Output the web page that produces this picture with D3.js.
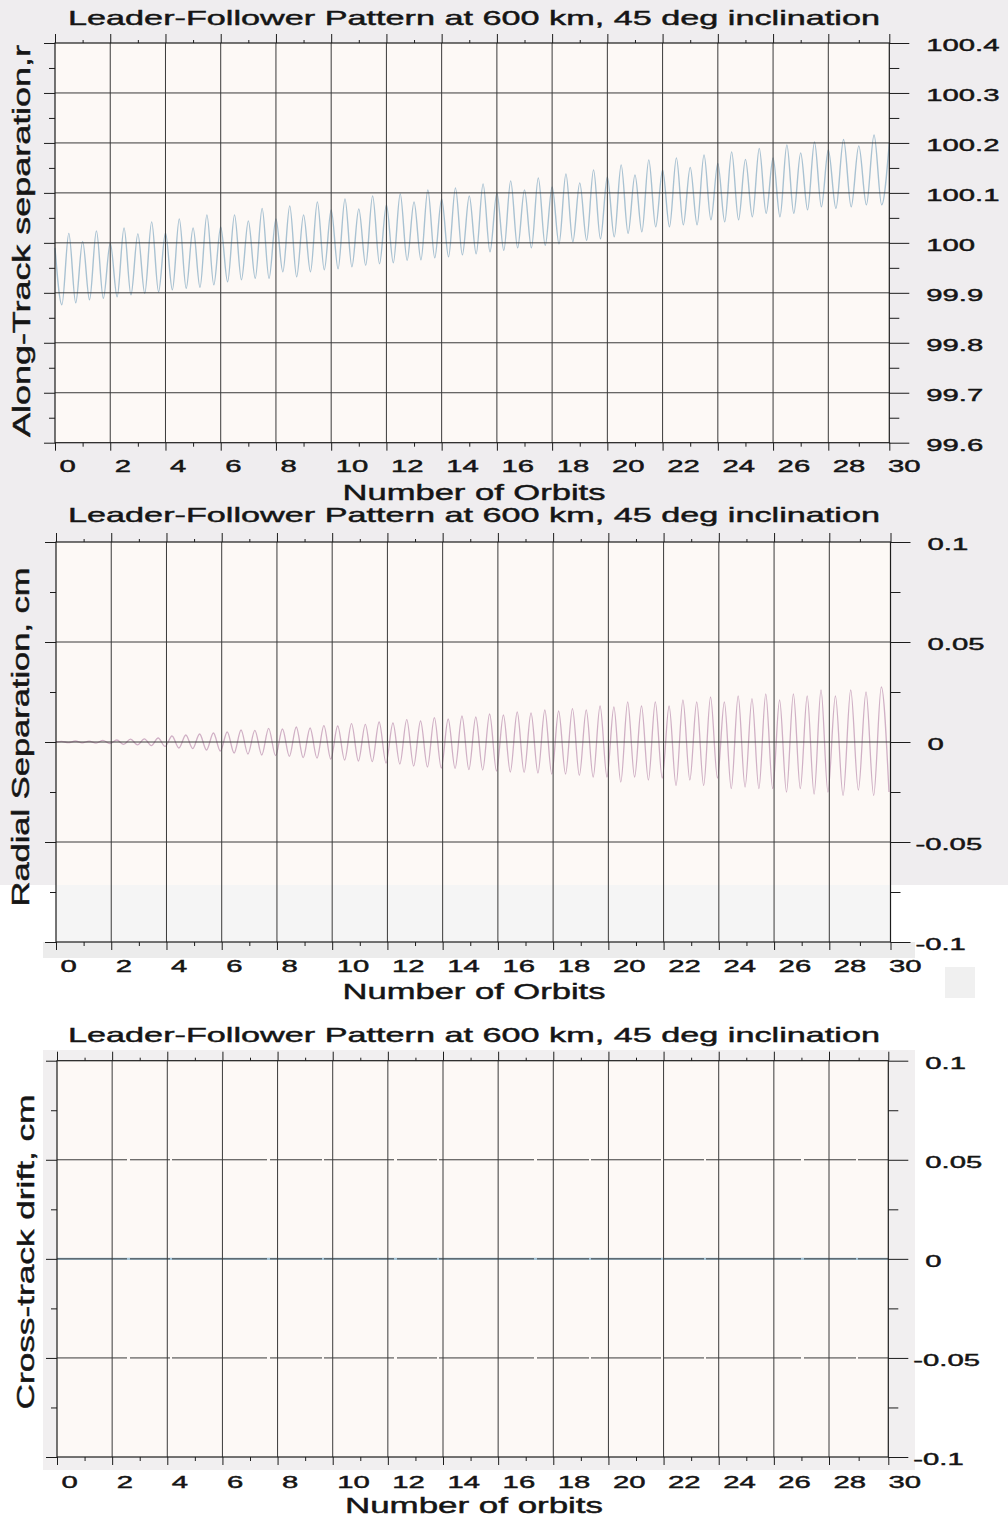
<!DOCTYPE html>
<html>
<head>
<meta charset="utf-8">
<script src="https://cdn.jsdelivr.net/npm/d3@7"></script>
<style>
  body { margin: 0; background: #ffffff; }
  svg { display: block; }
  text { font-family: "Liberation Sans", Arial, Helvetica, sans-serif; fill: #151515; stroke: #151515; stroke-width: 0.45px; }
</style>
</head>
<body>
<svg id="chart" width="1008" height="1520"></svg>
<script>
// ---------------- data ----------------
const chartTitle = "Leader-Follower Pattern at 600 km, 45 deg inclination";

const orbitTicks = [0, 2, 4, 6, 8, 10, 12, 14, 16, 18, 20, 22, 24, 26, 28, 30];
const orbitTickLabels = ["0", "2", "4", "6", "8", "10", "12", "14", "16", "18", "20", "22", "24", "26", "28", "30"];
const orbitMinorTicks = [1, 3, 5, 7, 9, 11, 13, 15, 17, 19, 21, 23, 25, 27, 29];

const alongTicks = [99.6, 99.7, 99.8, 99.9, 100, 100.1, 100.2, 100.3, 100.4];
const alongTickLabels = ["99.6", "99.7", "99.8", "99.9", "100", "100.1", "100.2", "100.3", "100.4"];
const alongMinorTicks = [99.65, 99.75, 99.85, 99.95, 100.05, 100.15, 100.25, 100.35];

const cmTicks = [-0.1, -0.05, 0, 0.05, 0.1];
const cmTickLabels = ["-0.1", "-0.05", "0", "0.05", "0.1"];
const cmMinorTicks = [-0.075, -0.025, 0.025, 0.075];

// Along-track separation: value at orbit 0, then crest values every half orbit
// (orbits 0.5, 1.0, ... 30.0) and trough values between them (0.25, 0.75, ... 29.75).
const alongStart = 99.99;
const alongPeaks = [
  100.019, 100.003, 100.024, 100.000, 100.030, 100.018, 100.042, 100.020, 100.048, 100.030,
  100.056, 100.032, 100.056, 100.044, 100.069, 100.048, 100.074, 100.056, 100.082, 100.066,
  100.088, 100.068, 100.094, 100.076, 100.098, 100.082, 100.106, 100.088, 100.110, 100.094,
  100.118, 100.100, 100.124, 100.106, 100.130, 100.112, 100.138, 100.120, 100.146, 100.132,
  100.156, 100.136, 100.166, 100.146, 100.170, 100.151, 100.176, 100.159, 100.182, 100.167,
  100.189, 100.170, 100.196, 100.180, 100.202, 100.186, 100.207, 100.194, 100.216, 100.200
];
const alongTroughs = [
  99.876, 99.880, 99.886, 99.889, 99.892, 99.896, 99.899, 99.902, 99.906, 99.909,
  99.911, 99.916, 99.922, 99.926, 99.929, 99.929, 99.942, 99.932, 99.942, 99.946,
  99.948, 99.952, 99.955, 99.958, 99.960, 99.965, 99.966, 99.970, 99.972, 99.976,
  99.978, 99.982, 99.985, 99.990, 99.990, 99.995, 99.998, 100.002, 100.005, 100.008,
  100.012, 100.019, 100.022, 100.032, 100.032, 100.036, 100.036, 100.046, 100.042, 100.046,
  100.052, 100.059, 100.052, 100.059, 100.066, 100.072, 100.069, 100.072, 100.076, 100.076
];

// Radial separation: crests at orbits 0.2, 0.7, ... 29.7; troughs at 0.45, 0.95, ... 29.95.
const radialStart = 0;
const radialPeaks = [
  0.0003, 0.0005, 0.0004, 0.0008, 0.0010, 0.0014, 0.0016, 0.0020, 0.0030, 0.0035,
  0.0040, 0.0045, 0.0050, 0.0060, 0.0058, 0.0068, 0.0065, 0.0075, 0.0070, 0.0082,
  0.0080, 0.0092, 0.0088, 0.0100, 0.0095, 0.0112, 0.0105, 0.0122, 0.0115, 0.0130,
  0.0125, 0.0140, 0.0135, 0.0150, 0.0145, 0.0160, 0.0155, 0.0167, 0.0160, 0.0180,
  0.0175, 0.0200, 0.0180, 0.0200, 0.0180, 0.0210, 0.0200, 0.0225, 0.0200, 0.0230,
  0.0217, 0.0240, 0.0210, 0.0240, 0.0230, 0.0260, 0.0230, 0.0260, 0.0250, 0.0275
];
const radialTroughs = [
  -0.0003, -0.0004, -0.0006, -0.0008, -0.0012, -0.0014, -0.0018, -0.0022, -0.0030, -0.0033,
  -0.0040, -0.0045, -0.0055, -0.0060, -0.0065, -0.0068, -0.0072, -0.0078, -0.0080, -0.0085,
  -0.0090, -0.0095, -0.0098, -0.0105, -0.0110, -0.0120, -0.0125, -0.0130, -0.0132, -0.0138,
  -0.0140, -0.0145, -0.0150, -0.0152, -0.0155, -0.0160, -0.0160, -0.0167, -0.0175, -0.0175,
  -0.0200, -0.0175, -0.0190, -0.0180, -0.0217, -0.0190, -0.0217, -0.0180, -0.0233, -0.0225,
  -0.0233, -0.0233, -0.0250, -0.0233, -0.0260, -0.0250, -0.0267, -0.0240, -0.0267, -0.0250
];

// Cross-track drift stays at zero for the whole run.
const crossOrbits = [0, 5, 10, 15, 20, 25, 30];
const crossDrift = [0, 0, 0, 0, 0, 0, 0];

// ---------------- helpers ----------------
const svg = d3.select("#chart");
const INK = "#1c1c1c";
const GRID = "#3a3a3a";

// widen text horizontally (the plotting font is a wide sans)
function widen(sel, k) {
  sel.each(function () {
    const w = this.getComputedTextLength();
    d3.select(this).attr("textLength", w * k).attr("lengthAdjust", "spacingAndGlyphs");
  });
}

function oscillation(start, peaks, troughs, peakPhase, troughPhase) {
  const pts = [{ t: 0, v: start }];
  peaks.forEach((v, i) => pts.push({ t: peakPhase + 0.5 * i, v }));
  troughs.forEach((v, i) => pts.push({ t: troughPhase + 0.5 * i, v }));
  return pts.sort((a, b) => a.t - b.t);
}

function styleTicks(g) {
  g.select(".domain").remove();
  g.selectAll(".tick line").attr("stroke", INK).attr("stroke-width", 1);
}

// ---------------- page background (scanned sheet) ----------------
svg.append("rect").attr("x", 0).attr("y", 0).attr("width", 1008).attr("height", 885).attr("fill", "#efedef");
svg.append("rect").attr("x", 43).attr("y", 942).attr("width", 872).attr("height", 16).attr("fill", "#ececec");
svg.append("rect").attr("x", 945).attr("y", 967).attr("width", 30).attr("height", 31).attr("fill", "#f0f0f0");
svg.append("rect").attr("x", 43).attr("y", 1050).attr("width", 872).attr("height", 420).attr("fill", "#f1eff0");

// ---------------- one panel ----------------
function drawPanel(p) {
  const g = svg.append("g");
  const L = p.xRange[0], R = p.xRange[2];
  const x = d3.scaleLinear().domain([0, 28, 30]).range(p.xRange);
  const xLab = d3.scaleLinear().domain([0, 30]).range([L, L + 15 * p.step]);
  const y = d3.scaleLinear().domain(p.yDomain).range([p.yBottom, p.yTop]);

  // plot area
  g.append("rect").attr("x", L).attr("y", p.yTop).attr("width", R - L)
    .attr("height", p.yBottom - p.yTop).attr("fill", "#fdf9f6");
  if (p.fadeFrom) {
    g.append("rect").attr("x", L).attr("y", p.fadeFrom).attr("width", R - L)
      .attr("height", p.yBottom - p.fadeFrom).attr("fill", "#f5f5f5");
  }

  // data curve
  const line = d3.line().x(d => x(d.t)).y(d => y(d.v)).curve(d3.curveMonotoneX);
  g.append("path").datum(p.points).attr("d", line)
    .attr("fill", "none").attr("stroke", p.color).attr("stroke-width", p.lineWidth)
    .attr("stroke-linejoin", "round");

  // grid
  const grid = g.append("g").attr("stroke", GRID).attr("stroke-width", 1);
  grid.selectAll("line.h").data(p.yTicks.slice(1, -1)).join("line")
    .attr("x1", L).attr("x2", R).attr("y1", d => y(d)).attr("y2", d => y(d))
    .attr("stroke-dasharray", p.gridDash || null);
  grid.selectAll("line.v").data(orbitTicks.filter(d => d > 0 && d < 30)).join("line")
    .attr("class", "v")
    .attr("x1", d => x(d)).attr("x2", d => x(d)).attr("y1", p.yTop).attr("y2", p.yBottom);

  // frame
  g.append("rect").attr("x", L).attr("y", p.yTop).attr("width", R - L)
    .attr("height", p.yBottom - p.yTop).attr("fill", "none")
    .attr("stroke", INK).attr("stroke-width", 1.2);

  // tick marks on all four sides
  g.append("g").attr("transform", `translate(0,${p.yBottom})`)
    .call(d3.axisBottom(x).tickValues(orbitTicks).tickSize(8).tickFormat("")).call(styleTicks);
  g.append("g").attr("transform", `translate(0,${p.yBottom})`)
    .call(d3.axisBottom(x).tickValues(orbitMinorTicks).tickSize(4).tickFormat("")).call(styleTicks);
  g.append("g").attr("transform", `translate(0,${p.yTop})`)
    .call(d3.axisTop(x).tickValues(orbitTicks).tickSize(9).tickFormat("")).call(styleTicks);
  g.append("g").attr("transform", `translate(0,${p.yTop})`)
    .call(d3.axisTop(x).tickValues(orbitMinorTicks).tickSize(3).tickFormat("")).call(styleTicks);
  g.append("g").attr("transform", `translate(${L},0)`)
    .call(d3.axisLeft(y).tickValues(p.yTicks).tickSize(11).tickFormat("")).call(styleTicks);
  g.append("g").attr("transform", `translate(${L},0)`)
    .call(d3.axisLeft(y).tickValues(p.yMinor).tickSize(6).tickFormat("")).call(styleTicks);
  g.append("g").attr("transform", `translate(${R},0)`)
    .call(d3.axisRight(y).tickValues(p.yTicks).tickSize(20).tickFormat("")).call(styleTicks);
  g.append("g").attr("transform", `translate(${R},0)`)
    .call(d3.axisRight(y).tickValues(p.yMinor).tickSize(10).tickFormat("")).call(styleTicks);

  // x tick labels
  const xl = g.append("g").attr("transform", `translate(0,${p.yBottom})`)
    .call(d3.axisBottom(xLab).tickValues(orbitTicks).tickSize(0)
      .tickFormat((d, i) => orbitTickLabels[i]));
  xl.select(".domain").remove();
  xl.attr("font-size", null).attr("font-family", null);
  xl.selectAll("text")
    .attr("text-anchor", "start").attr("x", 4).attr("dy", null)
    .attr("y", p.xLabelBase - p.yBottom)
    .style("font-size", "17px").style("fill", "#151515")
    .call(widen, 1.72);

  // y tick labels on the right
  const yl = g.append("g").attr("transform", `translate(${R},0)`)
    .call(d3.axisRight(y).tickValues(p.yTicks).tickSize(0)
      .tickFormat((d, i) => p.yTickLabels[i]));
  yl.select(".domain").remove();
  yl.attr("font-size", null).attr("font-family", null);
  yl.selectAll("text")
    .attr("text-anchor", "start").attr("dy", null).attr("y", 7.5)
    .attr("x", d => (d < 0 ? 25 : 37))
    .style("font-size", "17px").style("fill", "#151515")
    .call(widen, 1.72);

  // titles
  g.append("text").attr("x", 474).attr("y", p.titleBase).attr("text-anchor", "middle")
    .attr("textLength", 812).attr("lengthAdjust", "spacingAndGlyphs")
    .style("font-size", "21px").text(chartTitle);
  g.append("text").attr("x", 474).attr("y", p.xTitleBase).attr("text-anchor", "middle")
    .attr("textLength", p.xTitleLen).attr("lengthAdjust", "spacingAndGlyphs")
    .style("font-size", "22px").text(p.xTitle);
  g.append("text")
    .attr("transform", `translate(${p.yTitleX},${p.yTitleMid}) rotate(-90)`)
    .attr("text-anchor", "middle")
    .attr("textLength", p.yTitleLen).attr("lengthAdjust", "spacingAndGlyphs")
    .style("font-size", p.yTitleSize + "px").text(p.yTitle);
}

// ---------------- panels ----------------
drawPanel({
  xRange: [55, 828.3, 889.3], step: 55.24,
  yDomain: [99.6, 100.4], yTop: 43, yBottom: 442.7,
  yTicks: alongTicks, yTickLabels: alongTickLabels, yMinor: alongMinorTicks,
  points: oscillation(alongStart, alongPeaks, alongTroughs, 0.5, 0.25),
  color: "#a9c2d2", lineWidth: 1.4,
  titleBase: 25, xLabelBase: 472, xTitleBase: 500, xTitle: "Number of Orbits", xTitleLen: 263,
  yTitle: "Along-Track separation,r", yTitleX: 30, yTitleMid: 241, yTitleLen: 392, yTitleSize: 23
});

drawPanel({
  xRange: [56, 829.3, 890.5], step: 55.24,
  yDomain: [-0.1, 0.1], yTop: 542, yBottom: 942,
  yTicks: cmTicks, yTickLabels: cmTickLabels, yMinor: cmMinorTicks,
  points: oscillation(radialStart, radialPeaks, radialTroughs, 0.2, 0.45),
  color: "#d0b0c5", lineWidth: 1.3, fadeFrom: 885,
  titleBase: 522, xLabelBase: 972, xTitleBase: 999, xTitle: "Number of Orbits", xTitleLen: 263,
  yTitle: "Radial Separation, cm", yTitleX: 29, yTitleMid: 737, yTitleLen: 339, yTitleSize: 23
});

drawPanel({
  xRange: [57, 829, 888.3], step: 55.14,
  yDomain: [-0.1, 0.1], yTop: 1060.7, yBottom: 1457,
  yTicks: cmTicks, yTickLabels: cmTickLabels, yMinor: cmMinorTicks,
  points: crossOrbits.map((t, i) => ({ t, v: crossDrift[i] })),
  color: "#a9c8da", lineWidth: 2.2, gridDash: "70,3,40,2,95,3,52,2",
  titleBase: 1042, xLabelBase: 1488, xTitleBase: 1513, xTitle: "Number of orbits", xTitleLen: 258,
  yTitle: "Cross-track drift, cm", yTitleX: 34, yTitleMid: 1252, yTitleLen: 315, yTitleSize: 24
});
</script>
</body>
</html>
